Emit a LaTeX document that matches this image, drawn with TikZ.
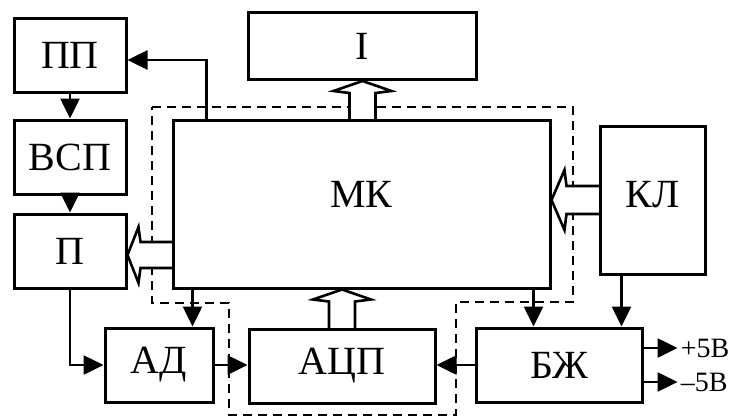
\documentclass[tikz,border=0pt]{standalone}
\usepackage{fontspec}
\setmainfont{Liberation Serif}
\usetikzlibrary{arrows.meta,calc,backgrounds}

\begin{document}
\begin{tikzpicture}[x=1pt,y=-1pt,
    font=\fontsize{40}{44}\selectfont,
    blk/.style={draw,line width=3pt,inner sep=0pt},
    arr/.style={line width=2.6pt,-{Triangle[length=20pt,width=19pt]}},
    bus/.style={draw,line width=2.6pt,fill=white,line join=miter},
    frame/.style={line width=2pt,dash pattern=on 9pt off 6pt}]
  \useasboundingbox (0,0) rectangle (731,418);
  % blocks
  \node[blk,minimum width=112pt,minimum height=74pt] (pp) at (70,55) {ПП};
  \node[blk,minimum width=112pt,minimum height=74pt] (vsp) at (70,157) {ВСП};
  \node[blk,minimum width=112pt,minimum height=74pt] (p) at (70,251) {П};
  \node[blk,minimum width=377pt,minimum height=168pt,text depth=20pt] (mk) at (361.5,204) {МК};
  \node[blk,minimum width=228pt,minimum height=67pt] (ind) at (362.5,46) {I};
  \node[blk,minimum width=105pt,minimum height=148pt,text depth=12pt] (kl) at (652.5,200) {КЛ};
  \node[blk,minimum width=108pt,minimum height=74pt] (ad) at (159,365) {АД};
  \node[blk,minimum width=186pt,minimum height=74pt] (adc) at (342,366) {АЦП};
  \node[blk,minimum width=166pt,minimum height=74pt] (bzh) at (559,365) {БЖ};
  % dashed outline and buses underneath
  \begin{scope}[on background layer]
    \draw[frame] (152,107) -- (573,107) -- (573,302) -- (456,302) -- (456,415)
      -- (229,415) -- (229,303) -- (152,303) -- cycle;
    \draw[bus,shift={(ind.south)}] (-13,40) -- (-13,12) -- (-29,10) -- (0,0)
      -- (29,10) -- (13,12) -- (13,40);
    \draw[bus,shift={(mk.south -| adc.north)}] (-13,41) -- (-13,12) -- (-29,10) -- (0,0)
      -- (29,10) -- (13,12) -- (13,41);
    \draw[bus,shift={(mk.east |- kl.west)},rotate=90] (-14,50) -- (-14,15) -- (-30,13) -- (0,0)
      -- (30,13) -- (14,15) -- (14,50);
    \draw[bus,shift={($(p.east)+(0,4)$)},rotate=90] (-13,47) -- (-13,13) -- (-28,11) -- (0,0)
      -- (28,11) -- (13,13) -- (13,47);
  \end{scope}
  % signal lines
  \coordinate (topp) at ([xshift=35pt]mk.north west);
  \coordinate (toad) at ([xshift=21pt]mk.south west);
  \coordinate (tobzh) at ([xshift=-18pt]mk.south east);
  \coordinate (kltap) at ([xshift=-31pt]kl.south);
  \draw[arr] (topp) |- ($(pp.east)+(0,5)$);
  \draw[arr] (pp) -- (vsp);
  \draw[arr] (vsp) -- (p);
  \draw[arr] (p.south) |- (ad.west);
  \draw[arr] (toad) -- (toad |- ad.north);
  \draw[arr] (ad.east) -- (ad.east -| adc.west);
  \draw[arr] (bzh.west) -- (bzh.west -| adc.east);
  \draw[arr] (tobzh) -- (tobzh |- bzh.north);
  \draw[arr] (kltap) -- (kltap |- bzh.north);
  \draw[arr] ([yshift=17pt]bzh.east) -- ++(34,0)
    node[right,inner sep=2pt,font=\fontsize{28}{30}\selectfont] {+5В};
  \draw[arr] ([yshift=-17pt]bzh.east) -- ++(34,0)
    node[right,inner sep=2pt,font=\fontsize{28}{30}\selectfont] {–5В};
\end{tikzpicture}
\end{document}
